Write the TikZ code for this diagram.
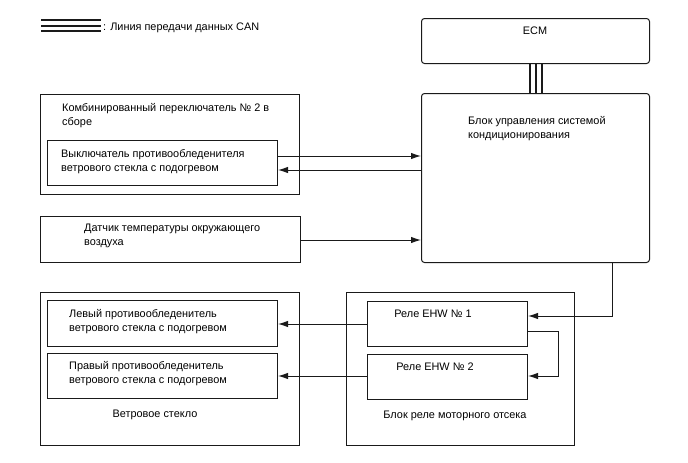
\documentclass[tikz,border=0pt]{standalone}
\usepackage{fontspec}
\setmainfont{Liberation Sans}
\usepackage{tikz}
\usetikzlibrary{arrows.meta}
\definecolor{ink}{HTML}{1A1A1A}
\tikzset{
  box/.style={draw=ink, line width=1pt, inner sep=0pt, anchor=north west},
  rbox/.style={box, rounded corners=3pt},
  lab/.style={text=black, inner sep=0pt, align=left, anchor=base west,
    font=\fontsize{10.9}{14}\selectfont},
  labc/.style={lab, anchor=base, align=center},
  sig/.style={draw=ink, line width=1pt, -{Latex[length=10pt,width=6.5pt]}},
  can/.style={draw=ink, line width=2pt}
}
\begin{document}
\begin{tikzpicture}[x=1pt,y=-1pt]
  \useasboundingbox (0,0) rectangle (688,463);

  % legend
  \coordinate (lg1) at (41,20);
  \coordinate (lg2) at (101,20);
  \foreach \d in {0,5.5,11}
    \draw[can] ([yshift=-\d pt]lg1) -- ([yshift=-\d pt]lg2);
  \node[lab] (lgt) at (103,30) {: Линия передачи данных CAN};

  % right column
  \node[rbox, minimum width=228pt, minimum height=45pt] (ecm) at (421,18) {};
  \node[labc] (ecmt) at (535,34) {ECM};
  \node[rbox, minimum width=228pt, minimum height=169pt] (ac) at (421,93) {};
  \node[lab] (act) at (468,138) {Блок управления системой\\кондиционирования};
  \foreach \d in {-6,0,6}
    \draw[can] ([xshift=\d pt]ecm.south) -- ([xshift=\d pt]ac.north);

  % left column
  \node[box, minimum width=259pt, minimum height=100pt] (cs2) at (40,94) {};
  \node[lab] (cs2t) at (62,125) {Комбинированный переключатель № 2 в\\сборе};
  \node[box, minimum width=230pt, minimum height=45pt] (sw) at (47,140) {};
  \node[lab] (swt) at (61,171.5) {Выключатель противообледенителя\\ветрового стекла с подогревом};
  \node[box, minimum width=260pt, minimum height=46pt] (ats) at (40,216) {};
  \node[lab] (atst) at (84,245) {Датчик температуры окружающего\\воздуха};

  \draw[sig] (sw.east |- 0,156) -- (ac.west |- 0,156);
  \draw[sig] (ac.west |- 0,170) -- (sw.east |- 0,170);
  \draw[sig] (ats.east |- 0,240) -- (ac.west |- 0,240);

  % windshield
  \node[box, minimum width=259pt, minimum height=153pt] (ws) at (40,292) {};
  \node[box, minimum width=230pt, minimum height=46pt] (lh) at (47,300) {};
  \node[lab] (lht) at (69,331) {Левый противообледенитель\\ветрового стекла с подогревом};
  \node[box, minimum width=230pt, minimum height=45pt] (rh) at (47,353) {};
  \node[lab] (rht) at (69,383) {Правый противообледенитель\\ветрового стекла с подогревом};
  \node[labc] (wst) at (155,417) {Ветровое стекло};

  % engine room relay block
  \node[box, minimum width=228pt, minimum height=153pt] (rb) at (346,292) {};
  \node[box, minimum width=160pt, minimum height=45pt] (r1) at (367,301) {};
  \node[labc] (r1t) at (433,317) {Реле EHW № 1};
  \node[box, minimum width=160pt, minimum height=45pt] (r2) at (367,354) {};
  \node[labc] (r2t) at (435,370) {Реле EHW № 2};
  \node[labc] (rbt) at (455,418) {Блок реле моторного отсека};

  \draw[sig] (ac.south -| 612,0) |- (r1.east |- 0,316);
  \draw[sig] (r1.east |- 0,331) -- (558,331) |- (r2.east |- 0,376);
  \draw[sig] (r1.west |- 0,324) -- (lh.east |- 0,324);
  \draw[sig] (r2.west |- 0,376) -- (rh.east |- 0,376);
\end{tikzpicture}
\end{document}
